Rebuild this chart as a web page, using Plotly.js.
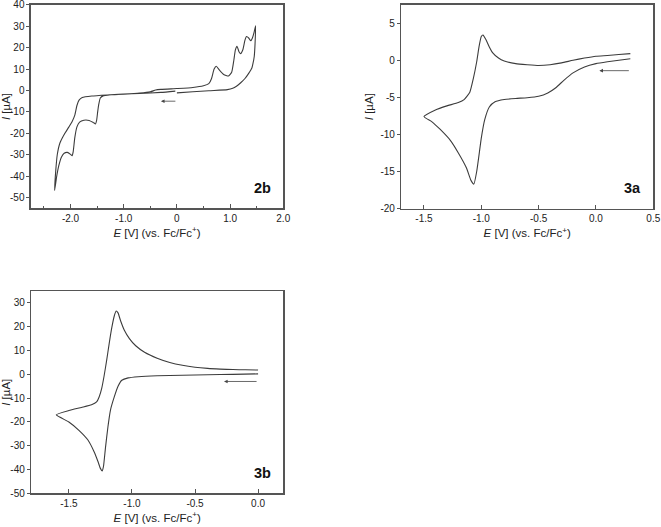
<!DOCTYPE html>
<html>
<head>
<meta charset="utf-8">
<script src="https://cdn.plot.ly/plotly-3.0.1.min.js"></script>
<style>
  html, body { margin: 0; padding: 0; background: #fff; }
  #plot { width: 661px; height: 527px; }
</style>
</head>
<body>
<div id="plot"></div>
<script>
/* Data (E in V vs Fc/Fc+, I in uA) */

// 2b: start near 0 V, scan negative, back to +1.48 V, back to 0
const e2b = [-0.03, -0.3, -0.7, -1.0, -1.25, -1.38, -1.44, -1.47, -1.49, -1.51, -1.53, -1.57, -1.65, -1.75, -1.83, -1.88,
    -1.92, -1.95, -1.97, -2.0, -2.06, -2.12, -2.17, -2.22, -2.26, -2.3,
    -2.28, -2.25, -2.2, -2.12, -2.03, -1.97, -1.92, -1.88, -1.84, -1.78, -1.6, -1.3, -1.0, -0.7, -0.5, -0.4, -0.3,
    0.0, 0.3, 0.5, 0.6, 0.65, 0.7, 0.74, 0.8, 0.88, 0.97, 1.03, 1.07, 1.1, 1.13, 1.17, 1.2, 1.24, 1.28, 1.31,
    1.35, 1.39, 1.42, 1.45, 1.48,
    1.47, 1.455, 1.43, 1.41, 1.35, 1.28, 1.2, 1.12, 1.05, 0.95, 0.6, 0.3, 0.0];
const i2b = [-0.3, -0.9, -1.4, -1.7, -2.0, -2.4, -3.5, -6.5, -10, -14, -15.6, -15, -14, -13.9, -14.8, -17,
    -22, -28.5, -30.4, -29.8, -28.9, -29.3, -31, -35, -40, -46.6,
    -38, -30, -24.5, -20.5, -17, -14.5, -11.5, -7, -4.5, -3.3, -2.6, -2.1, -1.7, -1.2, -0.6, 0.2, 0.5,
    0.9, 1.4, 2.2, 3.2, 5.5, 10, 11.3, 9.5, 7.5, 6.8, 8.5, 14, 19, 20.6, 18, 17.2, 19, 23.5, 25.2,
    24.5, 23.2, 24.5, 27, 30.2,
    22, 16, 12.5, 10.5, 8, 5.6, 3.6, 2.0, 1.0, 0.4, -0.1, -0.6, -1.1];

// 3a
const e3a = [0.3, 0.2, 0.1, 0.0, -0.1, -0.2, -0.28, -0.35, -0.42, -0.5, -0.6, -0.7, -0.8, -0.88, -0.93, -0.97,
    -1.0, -1.02, -1.04, -1.065, -1.09, -1.13, -1.2, -1.27, -1.36, -1.43, -1.5,
    -1.4, -1.3, -1.2, -1.15, -1.1, -1.07, -1.04, -1.02, -1.0, -0.985, -0.96, -0.93, -0.9, -0.85, -0.8, -0.7,
    -0.6, -0.5, -0.4, -0.3, -0.2, -0.1, 0.0, 0.1, 0.2, 0.3];
const i3a = [0.2, 0.0, -0.2, -0.45, -0.9, -1.7, -2.7, -3.7, -4.4, -4.85, -5.05, -5.15, -5.3, -5.6, -6.3, -8,
    -10.5, -12.8, -15, -16.7, -16.2, -14.5, -12.5, -10.8, -9.3, -8.3, -7.6,
    -6.7, -6.15, -5.7, -5.3, -4.3, -2.5, -0.2, 1.8, 3.2, 3.4, 2.8, 1.8, 1.0, 0.3, -0.1, -0.45,
    -0.6, -0.7, -0.6, -0.35, 0.0, 0.3, 0.55, 0.65, 0.78, 0.9];

// 3b
const e3b = [0.0, -0.2, -0.4, -0.6, -0.8, -0.95, -1.03, -1.08, -1.11, -1.14, -1.17, -1.19, -1.21, -1.225, -1.235,
    -1.25, -1.27, -1.3, -1.35, -1.42, -1.5, -1.6,
    -1.5, -1.4, -1.32, -1.28, -1.26, -1.24, -1.22, -1.2, -1.18, -1.16, -1.14, -1.125, -1.11, -1.09, -1.06,
    -1.02, -0.97, -0.9, -0.8, -0.7, -0.6, -0.5, -0.4, -0.3, -0.2, -0.1, 0.0];
const i3b = [0.2, 0.0, -0.2, -0.4, -0.6, -1.0, -1.5, -2.5, -5, -9.5, -15, -22, -31, -38.5, -40.6,
    -39.5, -36.5, -32.5, -27.5, -23.5, -20, -17,
    -15.2, -13.9, -12.8, -11.6, -9.5, -6, -0.5, 6, 13, 19.5, 24.5, 26.6, 25.8, 22.5, 18.5,
    15, 12, 9.3, 6.8, 5, 3.8, 3.0, 2.5, 2.2, 2.0, 1.9, 1.8];

// tick labels
const ticks2b = [-2, -1, 0, 1, 2];
const labels2b = ['-2.0', '-1.0', '0', '1.0', '2.0'];
const ticks3a = [-1.5, -1.0, -0.5, 0.0, 0.5];
const labels3a = ['-1.5', '-1.0', '-0.5', '0.0', '0.5'];
const ticks3b = [-1.5, -1.0, -0.5, 0.0];
const labels3b = ['-1.5', '-1.0', '-0.5', '0.0'];
const yticks2b = [-50, -40, -30, -20, -10, 0, 10, 20, 30, 40];
const yticks3a = [-20, -15, -10, -5, 0, 5];
const yticks3b = [-50, -40, -30, -20, -10, 0, 10, 20, 30];

const FONT = 'Liberation Sans, Arial, sans-serif';
const FRAME = '#555555';
const CURVE = '#3c3c3c';

function xaxis(domain, range, tv, tt, anchor) {
    return {
        domain: domain, range: range, anchor: anchor,
        showline: true, mirror: true, linecolor: FRAME, linewidth: 1.2,
        showgrid: false, zeroline: false,
        ticks: 'inside', ticklen: 4, tickcolor: FRAME, tickwidth: 1,
        tickmode: 'array', tickvals: tv, ticktext: tt, ticklabeloverflow: 'allow',
        minor: {tickmode: 'linear', tick0: 0, dtick: 0.5, ticks: 'inside', ticklen: 2, tickcolor: FRAME},
        tickfont: {family: FONT, size: 10, color: '#222'},
        title: {text: '<i>E</i> [V] (vs. Fc/Fc<sup>+</sup>)', font: {family: FONT, size: 11.5, color: '#222'}, standoff: 6}
    };
}

function yaxis(domain, range, tv, anchor) {
    return {
        domain: domain, range: range, anchor: anchor,
        showline: true, mirror: true, linecolor: FRAME, linewidth: 1.2,
        showgrid: false, zeroline: false,
        ticks: 'outside', ticklen: 3, tickcolor: FRAME, tickwidth: 1,
        tickmode: 'array', tickvals: tv, ticktext: tv.map(String), ticklabeloverflow: 'allow',
        tickfont: {family: FONT, size: 10, color: '#222'},
        title: {text: '<i>I</i> [µA]', font: {family: FONT, size: 11.5, color: '#222'}, standoff: 4}
    };
}

function curve(x, y, xa, ya) {
    return {
        type: 'scatter', mode: 'lines', x: x, y: y, xaxis: xa, yaxis: ya,
        line: {color: CURVE, width: 1.1, shape: 'spline', smoothing: 0.5},
        hoverinfo: 'skip'
    };
}

function arrow(xa, ya, xHead, xTail, yPos) {
    return {
        xref: xa, yref: ya, axref: xa, ayref: ya,
        x: xHead, y: yPos, ax: xTail, ay: yPos,
        text: '', showarrow: true, arrowhead: 2, arrowsize: 0.9, arrowwidth: 0.8, arrowcolor: '#444'
    };
}

function label(xa, ya, txt) {
    return {
        xref: xa + ' domain', yref: ya + ' domain', x: 0.96, y: 0.05,
        xanchor: 'right', yanchor: 'bottom', showarrow: false,
        text: '<b>' + txt + '</b>', font: {family: FONT, size: 14.5, color: '#111'}
    };
}

var data = [
    curve(e2b, i2b, 'x', 'y'),
    curve(e3a, i3a, 'x2', 'y2'),
    curve(e3b, i3b, 'x3', 'y3')
];

var layout = {
    width: 661, height: 527,
    margin: {l: 0, r: 0, t: 0, b: 0},
    paper_bgcolor: '#fff', plot_bgcolor: '#fff',
    showlegend: false,
    xaxis: xaxis([0.0464, 0.4286], [-2.75, 2.001], ticks2b, labels2b, 'y'),
    yaxis: yaxis([0.6047, 0.9911], [-55, 40.05], yticks2b, 'x'),
    xaxis2: xaxis([0.6067, 0.9884], [-1.7, 0.5005], ticks3a, labels3a, 'y2'),
    yaxis2: yaxis([0.6040, 0.9911], [-20.02, 7.5], yticks3a, 'x2'),
    xaxis3: xaxis([0.0469, 0.4286], [-1.8, 0.2], ticks3b, labels3b, 'y3'),
    yaxis3: yaxis([0.0636, 0.4478], [-50.05, 35], yticks3b, 'x3'),
    annotations: [
        arrow('x', 'y', -0.3, 0.0, -5),
        arrow('x2', 'y2', 0.03, 0.3, -1.4),
        arrow('x3', 'y3', -0.27, 0.0, -3),
        label('x', 'y', '2b'),
        label('x2', 'y2', '3a'),
        label('x3', 'y3', '3b')
    ]
};

Plotly.newPlot('plot', data, layout, {staticPlot: true});
</script>
</body>
</html>
